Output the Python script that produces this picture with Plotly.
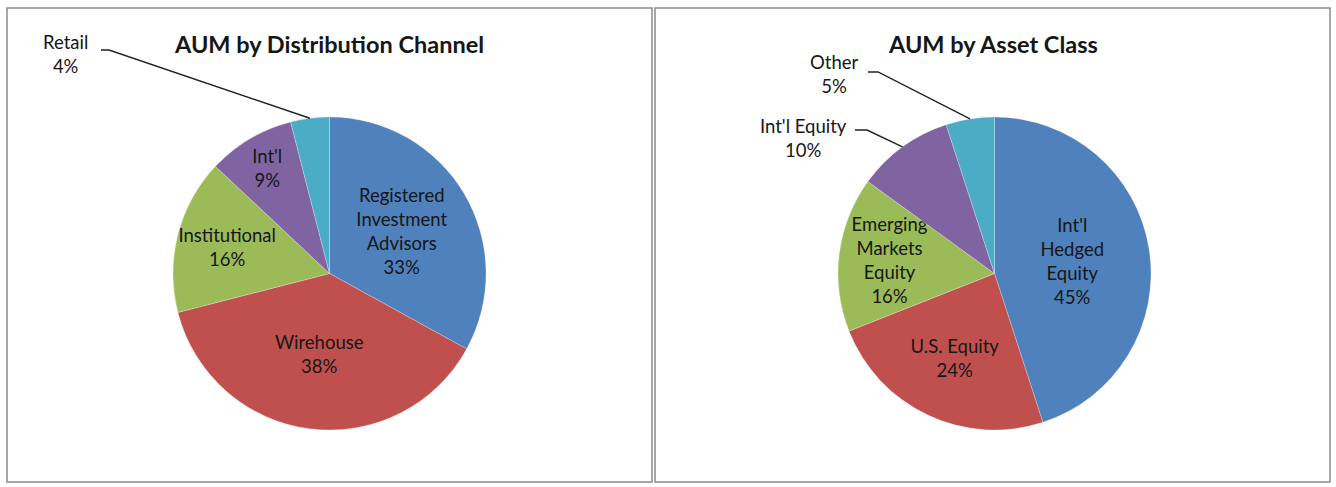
import math
import plotly.graph_objects as go

# ---------------- data ----------------
channel_labels = ["Registered Investment Advisors", "Wirehouse", "Institutional", "Int'l", "Retail"]
channel_text = ["Registered<br>Investment<br>Advisors", "Wirehouse", "Institutional", "Int'l", "Retail"]
channel_values = [33, 38, 16, 9, 4]
channel_inside = [True, True, True, True, False]

asset_labels = ["Int'l Hedged Equity", "U.S. Equity", "Emerging Markets Equity", "Int'l Equity", "Other"]
asset_text = ["Int'l<br>Hedged<br>Equity", "U.S. Equity", "Emerging<br>Markets<br>Equity", "Int'l Equity", "Other"]
asset_values = [45, 24, 16, 10, 5]
asset_inside = [True, True, True, False, False]

colors = ["#4F81BD", "#C0504D", "#9BBB59", "#8064A2", "#4BACC6"]

titles = ["AUM by Distribution Channel", "AUM by Asset Class"]

# ---------------- layout helpers ----------------
W, H = 1336, 487
FONT = "Lato, Carlito, 'Open Sans', sans-serif"
TXT = "#161616"
LABEL_SIZE = 18.5


def px(x):
    return x / W


def py(y):
    return 1 - y / H


pie_boxes = [(173, 486, 117, 430), (838, 1151, 117, 430)]  # x0, x1, y0, y1 (pixels)

fig = go.Figure()

for k, (labels, text, values, inside) in enumerate(
    [(channel_labels, channel_text, channel_values, channel_inside),
     (asset_labels, asset_text, asset_values, asset_inside)]):
    x0, x1, y0, y1 = pie_boxes[k]
    tt = [f"{t}<br>%{{percent:.0%}}" if ins else "" for t, ins in zip(text, inside)]
    fig.add_trace(go.Pie(
        labels=labels, values=values, text=text,
        texttemplate=tt, textposition="inside",
        insidetextorientation="horizontal",
        sort=False, direction="clockwise", rotation=0,
        marker=dict(colors=colors, line=dict(color="rgba(255,255,255,0.5)", width=0.5)),
        textfont=dict(family=FONT, size=LABEL_SIZE, color=TXT),
        domain=dict(x=[px(x0), px(x1)], y=[py(y1), py(y0)]),
        showlegend=False, hoverinfo="label+percent",
    ))


def slice_tip(k, values, idx):
    x0, x1, y0, y1 = pie_boxes[k]
    cx, cy = (x0 + x1) / 2, (y0 + y1) / 2
    r = min(x1 - x0, y1 - y0) / 2
    total = sum(values)
    f = (sum(values[:idx]) + values[idx] / 2) / total
    th = 2 * math.pi * f
    return cx + r * math.sin(th), cy - r * math.cos(th)


annotations = []
shapes = []

# titles
for k, (cx, title) in enumerate(zip([329, 993], titles)):
    annotations.append(dict(
        x=px(cx), y=py(44), xref="paper", yref="paper", text=f"<b>{title}</b>",
        showarrow=False, font=dict(family=FONT, size=23.5, color=TXT),
        xanchor="center", yanchor="middle"))

# outside labels with leader lines: (panel, values, labels, idx, text centre, elbow start, elbow end)
outside = [
    (0, channel_values, channel_labels, 4, (65, 54), (101, 50), (109, 50)),
    (1, asset_values, asset_labels, 4, (834, 74), (868, 72), (878, 72)),
    (1, asset_values, asset_labels, 3, (803, 138), (855, 130), (867, 130)),
]
for k, vals, labs, idx, (tx, ty), (ex0, ey0), (ex1, ey1) in outside:
    pct = round(100 * vals[idx] / sum(vals))
    annotations.append(dict(
        x=px(tx), y=py(ty), xref="paper", yref="paper",
        text=f"{labs[idx]}<br>{pct}%", showarrow=False,
        font=dict(family=FONT, size=LABEL_SIZE, color=TXT),
        xanchor="center", yanchor="middle", align="center"))
    tipx, tipy = slice_tip(k, vals, idx)
    shapes.append(dict(
        type="path", xref="paper", yref="paper",
        path=f"M {px(ex0)},{py(ey0)} L {px(ex1)},{py(ey1)} L {px(tipx)},{py(tipy)}",
        line=dict(color="#222222", width=1.4)))

# panel frames
for (fx0, fx1) in [(7, 652), (655, 1330)]:
    shapes.append(dict(
        type="rect", xref="paper", yref="paper",
        x0=px(fx0), x1=px(fx1), y0=py(482), y1=py(8),
        line=dict(color="#8a8a8a", width=1.5)))

fig.update_layout(
    width=W, height=H,
    margin=dict(l=0, r=0, t=0, b=0),
    paper_bgcolor="white", plot_bgcolor="white",
    annotations=annotations, shapes=shapes,
    uniformtext=dict(minsize=LABEL_SIZE, mode="show"),
    font=dict(family=FONT),
)

fig.write_html(
    "out.html",
    config={"displayModeBar": False},
    post_script="document.body.style.margin='0';document.body.style.overflow='hidden';",
)
